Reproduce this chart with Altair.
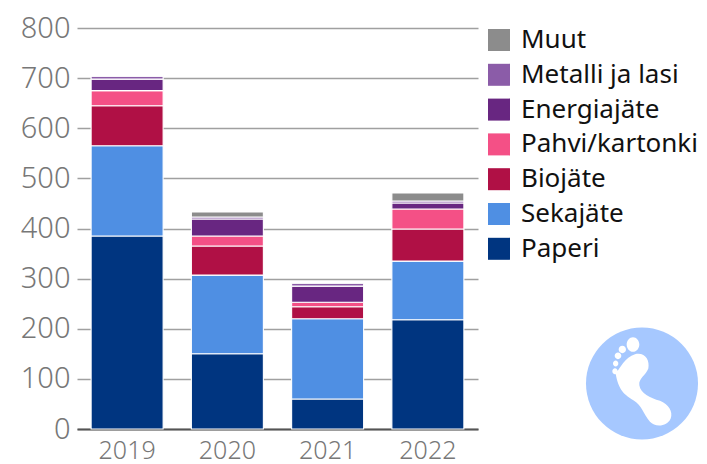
import altair as alt
import pandas as pd

years = ["2019", "2020", "2021", "2022"]
categories = ["Muut", "Metalli ja lasi", "Energiajäte", "Pahvi/kartonki", "Biojäte", "Sekajäte", "Paperi"]
colors = ["#8c8c8c", "#8b5ca8", "#682681", "#f45086", "#b01045", "#4f8fe3", "#003580"]
paperi = [385, 150, 60, 218]
sekajate = [180, 157, 160, 117]
biojate = [80, 58, 24, 64]
pahvi = [30, 20, 9, 40]
energia = [23, 34, 32, 12]
metalli = [6, 4, 6, 4]
muut = [1, 10, 2, 16]
y_ticks = [0, 100, 200, 300, 400, 500, 600, 700, 800]

series = {"Paperi": paperi, "Sekajäte": sekajate, "Biojäte": biojate, "Pahvi/kartonki": pahvi,
          "Energiajäte": energia, "Metalli ja lasi": metalli, "Muut": muut}
rows = []
for order, (name, vals) in enumerate(series.items()):
    for yr, v in zip(years, vals):
        rows.append({"year": yr, "cat": name, "value": v, "order": order})
df = pd.DataFrame(rows)

FONT = "Noto Sans"

bars = alt.Chart(df).mark_bar(stroke="white", strokeWidth=1.1, size=72).encode(
    x=alt.X("year:N", title=None, scale=alt.Scale(paddingInner=0.29, paddingOuter=0.145),
            axis=alt.Axis(labelAngle=0, labelFontSize=25, labelColor="#777777", labelFont=FONT,
                          labelFontWeight=300, ticks=False, domain=True, domainColor="#555555",
                          domainWidth=2, labelPadding=9, grid=False)),
    y=alt.Y("value:Q", stack="zero", title=None,
            scale=alt.Scale(domain=[0, 800], nice=False),
            axis=alt.Axis(values=y_ticks, labelFontSize=29, labelColor="#777777", labelFont=FONT,
                          labelFontWeight=300, ticks=False, domain=False, grid=True,
                          gridColor="#a0a0a0", gridWidth=1.5, labelPadding=7)),
    color=alt.Color("cat:N", scale=alt.Scale(domain=categories, range=colors),
                    legend=alt.Legend(title=None, orient="none", legendX=409, legendY=-1,
                                      symbolType="square", symbolSize=484, symbolStrokeWidth=0,
                                      labelFontSize=26, labelFont=FONT, labelColor="#111111",
                                      labelOffset=9, rowPadding=8.8, labelLimit=260)),
    order=alt.Order("order:Q"),
)


def circ(cx, cy, rx, ry):
    return (f"M{cx - rx} {cy} C{cx - rx} {cy - ry * .55} {cx - rx * .55} {cy - ry} {cx} {cy - ry} "
            f"C{cx + rx * .55} {cy - ry} {cx + rx} {cy - ry * .55} {cx + rx} {cy} "
            f"C{cx + rx} {cy + ry * .55} {cx + rx * .55} {cy + ry} {cx} {cy + ry} "
            f"C{cx - rx * .55} {cy + ry} {cx - rx} {cy + ry * .55} {cx - rx} {cy} Z")


def norm(points):
    return [(round((px - 216) / 336, 4), round((py - 220) / 336, 4)) for px, py in points]


sole = norm([(137, 190), (150, 175), (165, 140), (195, 132), (225, 125), (240, 150), (235, 175),
             (228, 195), (205, 205), (208, 225), (212, 250), (240, 262), (270, 272),
             (295, 282), (310, 305), (302, 325), (292, 350), (255, 352), (240, 335),
             (220, 310), (215, 285), (190, 270), (165, 255), (145, 240), (137, 190)])
d = f"M{sole[0][0]} {sole[0][1]} "
for i in range(1, len(sole) - 2, 3):
    a, b, c = sole[i], sole[i + 1], sole[i + 2]
    d += f"C{a[0]} {a[1]} {b[0]} {b[1]} {c[0]} {c[1]} "
d += "Z "
for cx, cy, rx, ry in [(189, 103, 19, 22), (157, 118, 11, 11), (144, 137, 10, 10), (137, 160, 8, 9), (135, 183, 8, 9)]:
    x, y = norm([(cx, cy)])[0]
    d += circ(x, y, round(rx / 336, 4), round(ry / 336, 4)) + " "

badge_data = pd.DataFrame({"a": [1]})
badge = alt.Chart(badge_data).mark_point(filled=True, shape="circle", size=12544, color="#a6c8ff", opacity=1).encode(
    x=alt.value(565), y=alt.value(355.5))
foot = alt.Chart(badge_data).mark_point(filled=True, shape=d, size=50176, color="white", opacity=1).encode(
    x=alt.value(565), y=alt.value(355.5))

chart = alt.layer(bars, badge, foot).properties(
    width=401, height=401,
    autosize=alt.AutoSizeParams(type="none"),
    padding={"left": 69, "top": 20, "right": 221, "bottom": 35},
).configure_view(stroke=None)

chart.save("out.html", embed_options={"renderer": "svg", "actions": False})
